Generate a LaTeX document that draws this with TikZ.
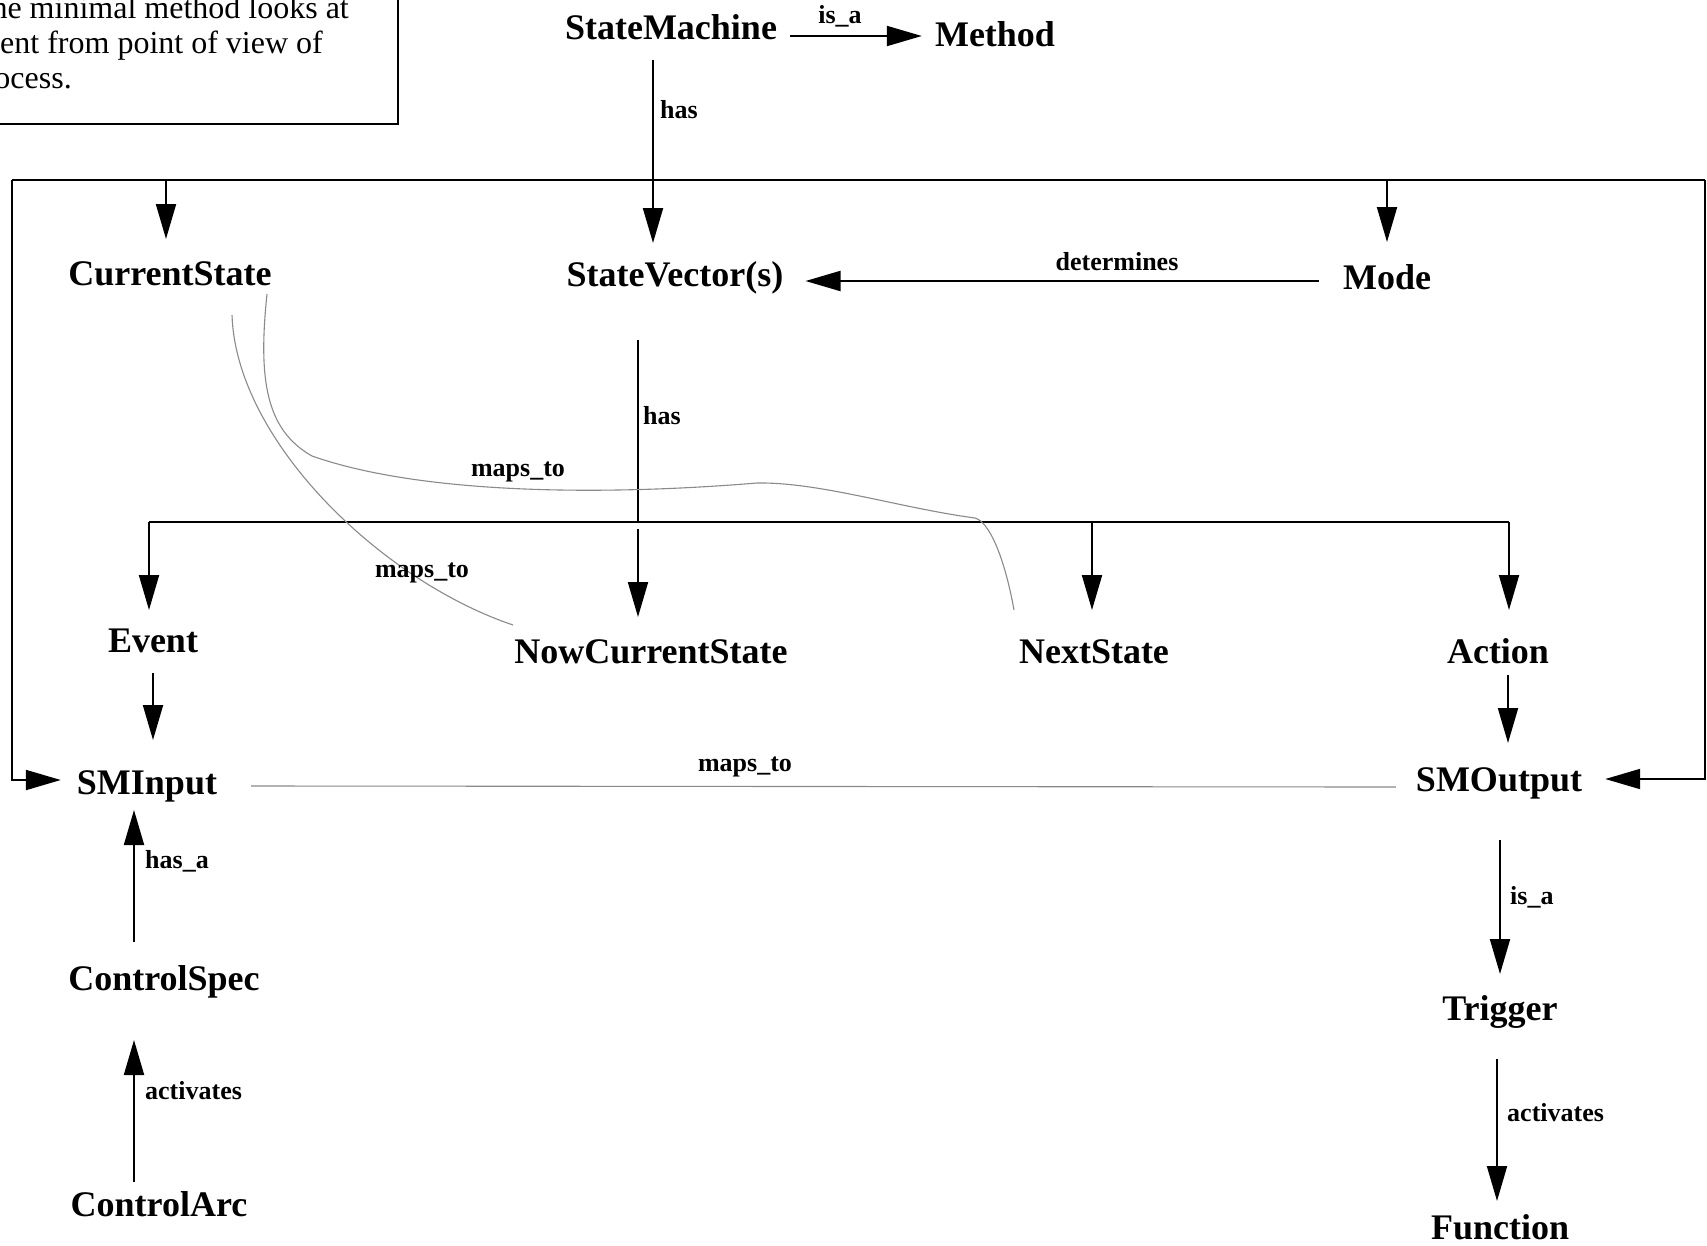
\documentclass[tikz,border=0pt]{standalone}
\usepackage{fontspec}
\setmainfont{Liberation Serif}
\usetikzlibrary{arrows.meta,calc}
\definecolor{mapgray}{HTML}{8A8A8A}
\begin{document}
\begin{tikzpicture}[x=1pt,y=-1pt,
  concept/.style={font=\fontsize{36}{40}\selectfont\bfseries, inner sep=0pt, text height=24pt, text depth=0pt},
  rel/.style={font=\fontsize{26}{30}\selectfont\bfseries, inner sep=0pt, text height=17pt, text depth=0pt},
  wire/.style={line width=2pt},
  arr/.style={line width=2pt, -{Triangle[length=35pt,width=20pt]}},
  mapline/.style={line width=1.1pt, draw=mapgray},
  note/.style={font=\fontsize{32}{36}\selectfont, inner sep=0pt, anchor=base east}]
\useasboundingbox (0,0) rectangle (1707,1245);
\fill[white] (0,0) rectangle (1707,1245);
\clip (0,0) rectangle (1707,1245);

% comment box in the corner
\draw[wire] (-20,-20) rectangle (398,124);
\node[note] (n1) at (349,18) {he minimal method looks at};
\node[note] (n2) at (323,53) {ent from point of view of};
\node[note] (n3) at (72,88) {ocess.};

% concepts
\node[concept] (sm)   at (671,27)   {StateMachine};
\node[concept] (me)   at (995,34)   {Method};
\node[concept] (cs)   at (170,273)  {CurrentState};
\node[concept] (sv)   at (675,274)  {StateVector(s)};
\node[concept] (mo)   at (1387,277) {Mode};
\node[concept] (ev)   at (153,640)  {Event};
\node[concept] (ncs)  at (651,651)  {NowCurrentState};
\node[concept] (ns)   at (1094,651) {NextState};
\node[concept] (ac)   at (1498,651) {Action};
\node[concept] (smi)  at (147,782)  {SMInput};
\node[concept] (smo)  at (1499,779) {SMOutput};
\node[concept] (csp)  at (164,978)  {ControlSpec};
\node[concept] (tr)   at (1500,1008) {Trigger};
\node[concept] (carc) at (159,1204) {ControlArc};
\node[concept] (fn)   at (1500,1227) {Function};

% bus lines
\coordinate (hubA) at (653,180);
\coordinate (busL) at (12,180);
\coordinate (busR) at (1705,180);
\coordinate (hubB) at (638,522);
\coordinate (busBL) at (149,522);
\coordinate (busBR) at (1509,522);

% StateMachine is_a Method
\draw[arr] ($(sm.east)+(13,9)$) -- ($(me.west)+(-13,2)$);
\node[rel] (lisa1) at (840,15) {is\_a};

% StateMachine has ...
\draw[wire] ($(sm)+(-18,33)$) -- (hubA);
\node[rel, anchor=west] (lhas1) at (660,110) {has};
\draw[wire] (busL) -- (busR);
\draw[arr] ($(cs)+(-4,-93)$) -- ($(cs)+(-4,-34)$);
\draw[arr] ($(sv)+(-22,-94)$) -- ($(sv)+(-22,-31)$);
\draw[arr] ($(mo)+(0,-97)$) -- ($(mo)+(0,-35)$);
\draw[arr] (busL) |- ($(smi.west)+(-16,-2)$);
\draw[arr] (busR) |- ($(smo.east)+(23,0)$);

% Mode determines StateVector(s)
\draw[arr] ($(mo.west)+(-24,4)$) -- ($(sv.east)+(22,7)$);
\node[rel] (ldet) at (1117,262) {determines};

% StateVector(s) has ...
\draw[wire] ($(sv)+(-37,66)$) -- (hubB);
\node[rel, anchor=west] (lhas2) at (643,416) {has};
\draw[wire] (busBL) -- (busBR);
\draw[arr] ($(ev)+(-4,-118)$) -- ($(ev)+(-4,-30)$);
\draw[arr] ($(ncs)+(-13,-122)$) -- ($(ncs)+(-13,-34)$);
\draw[arr] ($(ns)+(-2,-129)$) -- ($(ns)+(-2,-41)$);
\draw[arr] ($(ac)+(11,-129)$) -- ($(ac)+(11,-41)$);

% Event / Action feed the machine ports
\draw[arr] ($(ev)+(0,33)$) -- ($(smi)+(6,-42)$);
\draw[arr] ($(ac)+(10,24)$) -- ($(smo)+(9,-36)$);

% SMInput maps_to SMOutput
\draw[mapline] ($(smi.east)+(34,4)$) -- ($(smo.west)+(-20,8)$);
\node[rel] (lmap3) at (745,763) {maps\_to};

% CurrentState maps_to NowCurrentState / NextState
\draw[mapline] ($(cs)+(62,42)$) .. controls (236,440) and (380,580) .. ($(ncs)+(-138,-26)$);
\node[rel] (lmap2) at (422,569) {maps\_to};
\draw[mapline] ($(cs)+(97,21)$) .. controls (258,380) and (266,430) .. (312,456)
  .. controls (420,494) and (600,496) .. (757,483)
  .. controls (820,482) and (900,508) .. (975,518)
  .. controls (990,522) and (1005,560) .. ($(ns)+(-80,-41)$);
\node[rel] (lmap1) at (518,468) {maps\_to};

% SMOutput is_a Trigger activates Function
\draw[arr] ($(smo)+(1,61)$) -- ($(tr)+(0,-34)$);
\node[rel, anchor=west] (lisa2) at (1510,896) {is\_a};
\draw[arr] ($(tr)+(-3,51)$) -- ($(fn)+(-3,-26)$);
\node[rel, anchor=west] (lact2) at (1507,1113) {activates};

% ControlArc activates ControlSpec has_a SMInput
\draw[arr] ($(csp)+(-30,-36)$) -- ($(smi)+(-13,28)$);
\node[rel, anchor=west] (lhasa) at (145,860) {has\_a};
\draw[arr] ($(carc)+(-25,-22)$) -- ($(csp)+(-30,62)$);
\node[rel, anchor=west] (lact1) at (145,1091) {activates};
\end{tikzpicture}
\end{document}
